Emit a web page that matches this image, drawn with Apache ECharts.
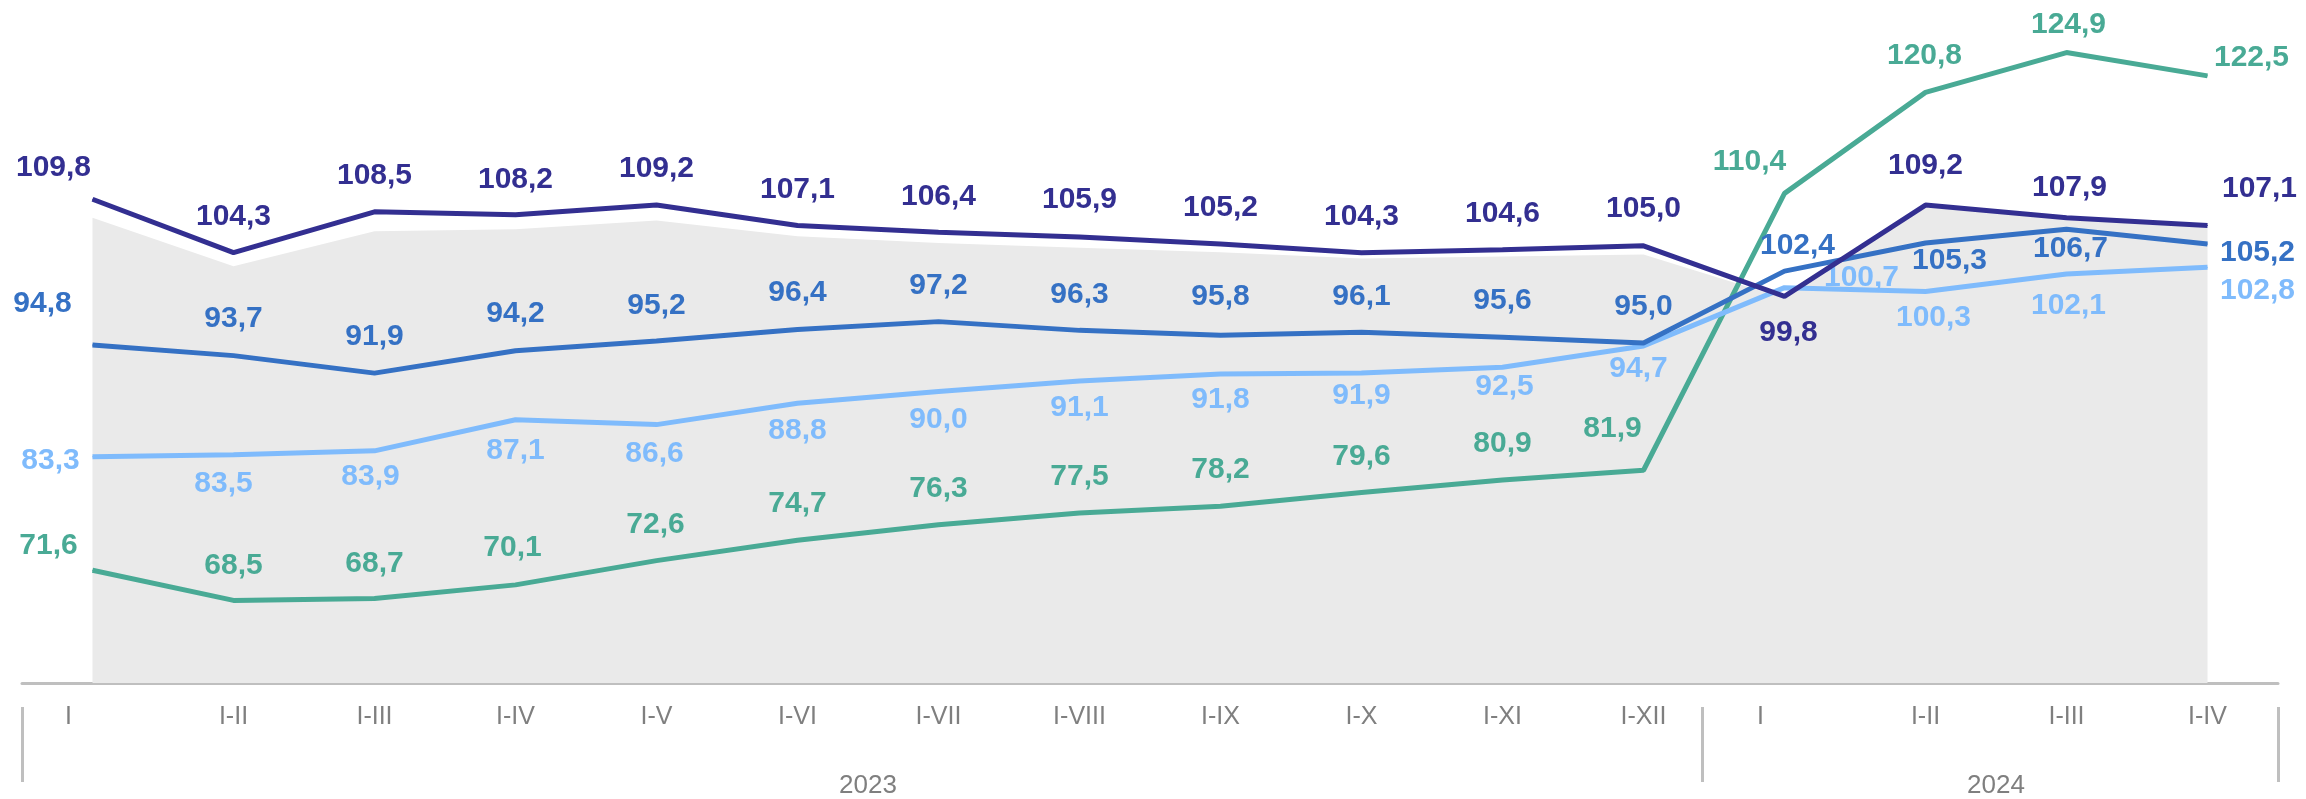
<!DOCTYPE html>
<html>
<head>
<meta charset="utf-8">
<script src="https://cdn.jsdelivr.net/npm/echarts@6/dist/echarts.min.js"></script>
<style>
html,body{margin:0;padding:0;background:#fff;}
#chart{width:2306px;height:799px;}
</style>
</head>
<body>
<div id="chart"></div>
<script>
// ---- data ----
var categories = ['I','I-II','I-III','I-IV','I-V','I-VI','I-VII','I-VIII','I-IX','I-X','I-XI','I-XII','I','I-II','I-III','I-IV'];
var years = ['2023','2024'];
var yearCounts = [12, 4];
var seriesDark  = [109.8,104.3,108.5,108.2,109.2,107.1,106.4,105.9,105.2,104.3,104.6,105.0, 99.8,109.2,107.9,107.1];
var seriesBlue  = [94.8,93.7,91.9,94.2,95.2,96.4,97.2,96.3,95.8,96.1,95.6,95.0,102.4,105.3,106.7,105.2];
var seriesLight = [83.3,83.5,83.9,87.1,86.6,88.8,90.0,91.1,91.8,91.9,92.5,94.7,100.7,100.3,102.1,102.8];
var seriesGreen = [71.6,68.5,68.7,70.1,72.6,74.7,76.3,77.5,78.2,79.6,80.9,81.9,110.4,120.8,124.9,122.5];
var seriesGrey  = [107.9,102.9,106.5,106.7,107.6,106.0,105.3,104.8,104.35,103.7,103.9,104.1,99.6,109.0,107.7,106.9];

// ---- label placement (style, pixel offsets from the point) ----
var offDark  = [[-39,-31],[0,-36],[0,-36],[0,-35],[0,-36],[0,-36],[0,-36],[0,-37],[0,-36],[0,-36],[0,-36],[0,-37],[4,36],[0,-39],[3,-30],[52,-37]];
var offBlue  = [[-50,-41],[0,-37],[0,-36],[0,-37],[0,-35],[0,-37],[0,-36],[0,-36],[0,-38],[0,-36],[0,-36],[0,-36],[13,-25],[24,18],[4,19],[50,9]];
var offLight = [[-42,4],[-10,29],[-4,26],[0,31],[-2,29],[0,28],[0,28],[0,27],[0,26],[0,23],[2,19],[-5,23],[77,-10],[8,26],[2,32],[50,24]];
var offGreen = [[-44,-25],[0,-35],[0,-35],[-3,-37],[-1,-36],[0,-36],[0,-36],[0,-36],[0,-36],[0,-36],[0,-36],[-31,-42],[-35,-32],[-1,-37],[2,-28],[44,-18]];
var firstLabelShift = 0.17;   // the first month label of each year sits slightly left (in bands)
var CAT_MARGIN = 22;

var FONT = "'Liberation Sans', Arial, sans-serif";
var C_DARK = '#332F91', C_BLUE = '#3571C4', C_LIGHT = '#7FBBFC', C_GREEN = '#49AA95';
var C_AXIS = '#BFBFBF', C_TEXT = '#7F7F7F';

function fmt(v){ return v.toFixed(1).replace('.', ','); }

function buildData(vals, offs, color){
  return vals.map(function(v, i){
    return {
      value: v,
      label: {
        show: true,
        position: 'inside',
        offset: offs[i],
        formatter: fmt(v),
        color: color,
        fontSize: 30,
        fontWeight: 'bold',
        fontFamily: FONT
      }
    };
  });
}

function lineSeries(name, vals, offs, color, z){
  return {
    name: name,
    type: 'line',
    data: buildData(vals, offs, color),
    symbol: 'circle',
    symbolSize: 1,
    showSymbol: true,
    itemStyle: { color: color },
    lineStyle: { color: color, width: 5 },
    z: z,
    animation: false
  };
}

// year groups: label in the middle of each group, separators at group edges
var yearCenters = [], yearEdges = [0], groupStarts = [], acc = 0;
yearCounts.forEach(function(c){ groupStarts.push(acc); yearCenters.push(acc + c / 2); acc += c; yearEdges.push(acc); });
var sepEdges = yearEdges.map(function(e, i){ return (i > 0 && i < yearEdges.length - 1) ? e - 0.08 : e; });
var firstLabelPos = groupStarts.map(function(s){ return s + 0.5 - firstLabelShift; });

function labelAt(positions, texts){
  return function(v){
    for (var i = 0; i < positions.length; i++) {
      if (Math.abs(positions[i] - v) < 1e-6) return texts[i];
    }
    return '';
  };
}

var chart = echarts.init(document.getElementById('chart'), null, { renderer: 'canvas' });
chart.setOption({
  backgroundColor: '#ffffff',
  animation: false,
  grid: { left: 22, right: 28, top: 3, bottom: 114, containLabel: false },
  xAxis: [
    {
      type: 'category',
      data: categories,
      boundaryGap: true,
      axisLine: { show: true, lineStyle: { color: C_AXIS, width: 3 } },
      axisTick: { show: false },
      axisLabel: {
        interval: function(idx){ return groupStarts.indexOf(idx) < 0; },
        margin: CAT_MARGIN,
        color: C_TEXT,
        fontSize: 25,
        fontFamily: FONT
      },
      splitLine: { show: false }
    },
    {
      type: 'value',
      position: 'bottom',
      offset: 24,
      min: 0,
      max: acc,
      axisLine: { show: false },
      splitLine: { show: false },
      axisTick: {
        show: true,
        customValues: sepEdges,
        length: 75,
        lineStyle: { color: C_AXIS, width: 3 }
      },
      axisLabel: {
        show: true,
        customValues: yearCenters,
        margin: 66,
        color: C_TEXT,
        fontSize: 26,
        fontFamily: FONT,
        formatter: labelAt(yearCenters, years)
      }
    }
  ],
  yAxis: {
    type: 'value',
    min: 60,
    max: 130,
    show: false,
    splitLine: { show: false }
  },
  series: [
    {
      name: 'background',
      type: 'line',
      data: seriesGrey,
      symbol: 'none',
      lineStyle: { width: 0, opacity: 0 },
      areaStyle: { color: '#EAEAEA', opacity: 1 },
      z: 1,
      silent: true,
      animation: false
    },
    lineSeries('green', seriesGreen, offGreen, C_GREEN, 3),
    lineSeries('light', seriesLight, offLight, C_LIGHT, 4),
    lineSeries('blue', seriesBlue, offBlue, C_BLUE, 5),
    lineSeries('dark', seriesDark, offDark, C_DARK, 6)
  ]
});

// first month label of each year group, placed through the axis scales
var axisY = chart.convertToPixel({ yAxisIndex: 0 }, 60);
chart.setOption({
  graphic: firstLabelPos.map(function(p, i){
    return {
      type: 'text',
      x: chart.convertToPixel({ xAxisIndex: 1 }, p),
      y: axisY + CAT_MARGIN,
      silent: true,
      style: {
        text: categories[groupStarts[i]],
        fill: C_TEXT,
        font: '25px ' + FONT,
        align: 'center',
        verticalAlign: 'top'
      }
    };
  })
});
</script>
</body>
</html>
